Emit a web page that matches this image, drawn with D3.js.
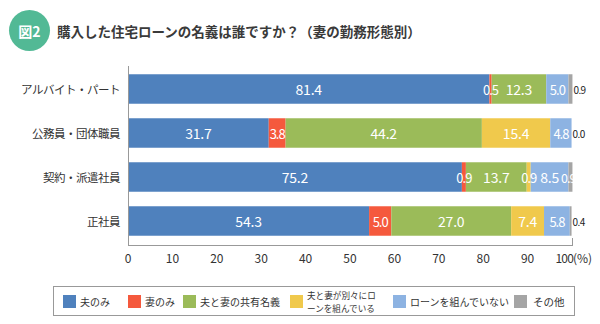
<!DOCTYPE html>
<html>
<head>
<meta charset="utf-8">
<script src="https://cdn.jsdelivr.net/npm/d3@7"></script>
<style>
  body { margin: 0; background: #fff; }
  svg { font-family: "Noto Sans CJK JP", "Noto Sans", sans-serif; }
</style>
</head>
<body>
<div id="chart"></div>
<script>
// categories (妻の勤務形態)
var categories = ["アルバイト・パート", "公務員・団体職員", "契約・派遣社員", "正社員"];
// series values (%)
var husbandOnly = [81.4, 31.7, 75.2, 54.3];
var wifeOnly    = [0.5, 3.8, 0.9, 5.0];
var jointName   = [12.3, 44.2, 13.7, 27.0];
var separate    = [0, 15.4, 0.9, 7.4];
var noLoan      = [5.0, 4.8, 8.5, 5.8];
var other       = [0.9, 0.0, 0.9, 0.4];
var seriesNames = ["夫のみ", "妻のみ", "夫と妻の共有名義", "夫と妻が別々にローンを組んでいる", "ローンを組んでいない", "その他"];
var tickValues = [0, 10, 20, 30, 40, 50, 60, 70, 80, 90, 100];
// rows whose "その他" label sits outside the bar
var outsideOther = ["アルバイト・パート", "公務員・団体職員", "正社員"];

var colors = ["#4f81bd", "#f5593d", "#9bbb59", "#f0c94c", "#8db3e2", "#a5a5a5"];

var keys = ["husbandOnly", "wifeOnly", "jointName", "separate", "noLoan", "other"];
var cols = [husbandOnly, wifeOnly, jointName, separate, noLoan, other];
var rows = categories.map(function(c, i) {
  var r = {cat: c};
  keys.forEach(function(k, j) { r[k] = cols[j][i]; });
  return r;
});

var svg = d3.select("#chart").append("svg")
  .attr("width", 600)
  .attr("height", 324);

// title
svg.append("rect")
  .attr("x", 9).attr("y", 10).attr("width", 41).attr("height", 41)
  .attr("rx", 20.5)
  .attr("fill", "#52b995");
svg.append("text")
  .attr("x", 29.5).attr("y", 31)
  .attr("text-anchor", "middle").attr("dominant-baseline", "central")
  .attr("fill", "#fff").attr("font-size", 14).attr("font-weight", "bold")
  .text("図2");
svg.append("text")
  .attr("x", 57).attr("y", 31)
  .attr("dominant-baseline", "central")
  .attr("fill", "#3a3a3a").attr("font-size", 13.5).attr("font-weight", "bold")
  .text("購入した住宅ローンの名義は誰ですか？（妻の勤務形態別）");

var x = d3.scaleLinear().domain([0, 100]).range([128, 572]);
var y = d3.scaleBand().domain(categories).range([67, 243])
  .paddingInner(0.33).paddingOuter(0.165);

var stack = d3.stack().keys(keys)(rows);

var g = svg.append("g");
stack.forEach(function(layer, li) {
  g.selectAll(null)
    .data(layer)
    .enter().append("rect")
    .attr("x", function(d) { return x(d[0]); })
    .attr("y", function(d) { return y(d.data.cat); })
    .attr("width", function(d) { return Math.max(0, x(d[1]) - x(d[0])); })
    .attr("height", y.bandwidth())
    .attr("fill", colors[li]);
});

// value labels
stack.forEach(function(layer, li) {
  layer.forEach(function(d) {
    var v = d.data[keys[li]];
    if (li === 3 && v === 0) return;
    var cy = y(d.data.cat) + y.bandwidth() / 2;
    var outside = li === 5 && outsideOther.indexOf(d.data.cat) >= 0;
    var t = g.append("text")
      .attr("y", cy)
      .attr("dominant-baseline", "central")
      .text(v.toFixed(1));
    if (outside) {
      t.attr("x", x(d[1]) + 1)
        .attr("fill", "#222").attr("font-size", 10)
        .attr("letter-spacing", -0.6);
    } else if (li === 5) {
      t.attr("x", x(d[1]) + 3)
        .attr("text-anchor", "end")
        .attr("fill", "#fff")
        .attr("font-size", 12.5)
        .attr("letter-spacing", -1);
    } else {
      t.attr("x", (x(d[0]) + x(d[1])) / 2)
        .attr("text-anchor", "middle")
        .attr("fill", "#fff")
        .attr("font-size", v < 6 ? 13 : 14)
        .attr("letter-spacing", v < 6 ? -1 : -0.2);
    }
  });
});

// category labels
svg.selectAll(".cat")
  .data(categories)
  .enter().append("text")
  .attr("class", "cat")
  .attr("x", 120)
  .attr("y", function(d) { return y(d) + y.bandwidth() / 2; })
  .attr("text-anchor", "end").attr("dominant-baseline", "central")
  .attr("fill", "#333").attr("font-size", 11.5)
  .attr("letter-spacing", -0.5)
  .text(function(d) { return d; });

// axes frame
svg.append("line")
  .attr("x1", 128.5).attr("x2", 128.5).attr("y1", 66).attr("y2", 246)
  .attr("stroke", "#999");
svg.append("line")
  .attr("x1", 128).attr("x2", 573).attr("y1", 245.5).attr("y2", 245.5)
  .attr("stroke", "#999");
svg.append("line")
  .attr("x1", 572.5).attr("x2", 572.5).attr("y1", 238).attr("y2", 246)
  .attr("stroke", "#999");

svg.selectAll(".tick-l")
  .data(tickValues)
  .enter().append("text")
  .attr("class", "tick-l")
  .attr("x", function(d) { return d === 100 ? x(d) + 1 : x(d); })
  .attr("y", 257)
  .attr("text-anchor", function(d) { return d === 100 ? "end" : "middle"; })
  .attr("dominant-baseline", "central")
  .attr("fill", "#333").attr("font-size", 12)
  .attr("letter-spacing", function(d) { return d === 100 ? -0.8 : 0; })
  .text(function(d) { return d; });
svg.append("text")
  .attr("x", x(100) + 1).attr("y", 257)
  .attr("dominant-baseline", "central")
  .attr("fill", "#333").attr("font-size", 12)
  .text("(%)");

// legend
svg.append("rect")
  .attr("x", 53.5).attr("y", 286.5).attr("width", 521).attr("height", 29)
  .attr("fill", "#fff").attr("stroke", "#999");
var legendX = [63, 128, 183, 290, 393, 514];
var leg = svg.selectAll(".leg")
  .data(seriesNames)
  .enter().append("g")
  .attr("class", "leg")
  .attr("transform", function(d, i) { return "translate(" + legendX[i] + ",295)"; });
leg.append("rect")
  .attr("width", 13).attr("height", 13)
  .attr("fill", function(d, i) { return colors[i]; });
leg.each(function(d, i) {
  var el = d3.select(this);
  var lines = i === 3 ? ["夫と妻が別々にロ", "ーンを組んでいる"] : [d];
  lines.forEach(function(s, k) {
    el.append("text")
      .attr("x", i === 5 ? 19 : 17)
      .attr("y", lines.length > 1 ? 0.2 + k * 12.6 : 6.5)
      .attr("dominant-baseline", "central")
      .attr("fill", "#333").attr("font-size", lines.length > 1 ? 8.6 : (i === 5 ? 10.5 : 10))
      .text(s);
  });
});
</script>
</body>
</html>
